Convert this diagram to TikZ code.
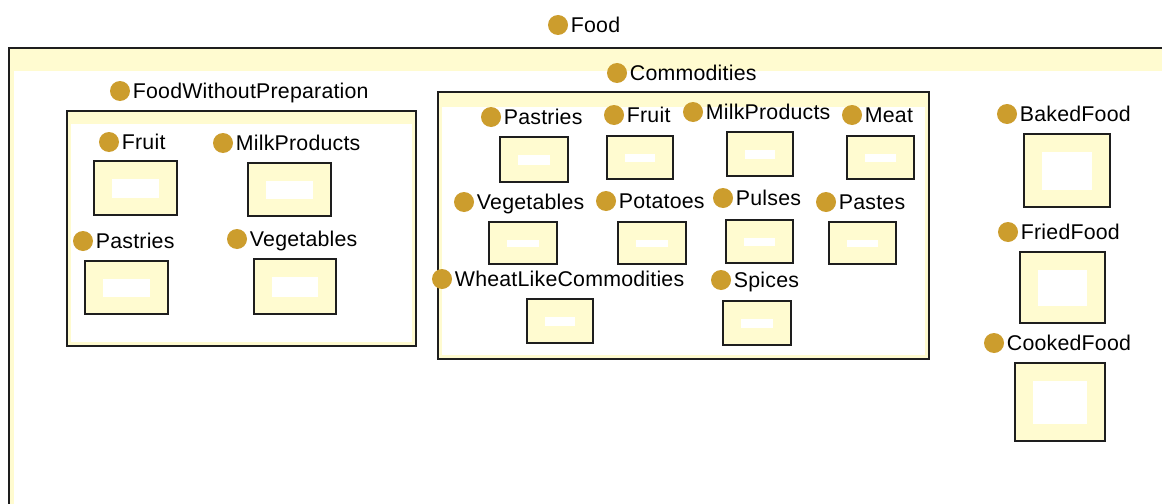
\documentclass[tikz,border=0pt]{standalone}
\usepackage{fontspec}
\setmainfont[LetterSpace=1]{Liberation Sans}
\usepackage{tikz}
\usetikzlibrary{positioning}
\definecolor{cream}{RGB}{255,251,208}
\definecolor{gold}{RGB}{204,157,45}
\definecolor{edge}{RGB}{30,30,30}
\tikzset{
 dot/.style={circle,fill=gold,inner sep=0pt,minimum size=20*0.75pt},
 lbl/.style={inner sep=0pt,text height=11.5pt,text depth=0pt,
   font=\fontsize{16}{19}\selectfont,label distance=1.8pt},
 classbox/.style={draw=edge,line width=1.4pt,fill=cream,
   path picture={\fill[white] ([shift={(18,17.5)}]path picture bounding box.north west)
     rectangle ([shift={(-18,-17.5)}]path picture bounding box.south east);}},
 groupbox/.style={draw=edge,line width=1.4pt,fill=cream,
   path picture={\fill[white] ([shift={(4,#1)}]path picture bounding box.north west)
     rectangle ([shift={(-4,-4)}]path picture bounding box.south east);}},
 groupbox/.default=13
}
\begin{document}
\begin{tikzpicture}[x=0.75pt,y=-0.75pt]
\useasboundingbox (0,0) rectangle (1162,503);
\clip (0,0) rectangle (1162,503);
\fill[white] (0,0) rectangle (1162,503);

% the top class and its frame
\path (558,25) node[dot,name=food,label={[lbl]right:Food}] {};
\path[groupbox=23] (9,48) rectangle (1185,530);
\fill[cream] (10,49) rectangle (14,530);

% FoodWithoutPreparation
\path (120,91) node[dot,name=fwp,label={[lbl]right:FoodWithoutPreparation}] {};
\path[groupbox] (67,111) rectangle (416,346);

\path (109,142) node[dot,name=fwpFruit,label={[lbl]right:Fruit}] {};
\path[classbox] (94,161) rectangle (177,215);
\path (223,143) node[dot,name=fwpMilk,label={[lbl]right:MilkProducts}] {};
\path[classbox] (248,163) rectangle (331,216);
\path (83,241) node[dot,name=fwpPastries,label={[lbl]right:Pastries}] {};
\path[classbox] (85,261) rectangle (168,314);
\path (237,239) node[dot,name=fwpVeg,label={[lbl]right:Vegetables}] {};
\path[classbox] (254,259) rectangle (336,314);

% Commodities
\path (617,73) node[dot,name=com,label={[lbl]right:Commodities}] {};
\path[groupbox=15] (438,92) rectangle (929,359);

\path (491,117) node[dot,name=comPastries,label={[lbl]right:Pastries}] {};
\path[classbox] (500,137) rectangle (568,182);
\path (614,115) node[dot,name=comFruit,label={[lbl]right:Fruit}] {};
\path[classbox] (607,136) rectangle (673,179);
\path (693,112) node[dot,name=comMilk,label={[lbl]right:MilkProducts}] {};
\path[classbox] (727,132) rectangle (793,176);
\path (852,115) node[dot,name=comMeat,label={[lbl]right:Meat}] {};
\path[classbox] (847,136) rectangle (914,179);

\path (464,202) node[dot,name=comVeg,label={[lbl]right:Vegetables}] {};
\path[classbox] (489,222) rectangle (557,264);
\path (606,201) node[dot,name=comPotatoes,label={[lbl]right:Potatoes}] {};
\path[classbox] (618,222) rectangle (686,264);
\path (723,198) node[dot,name=comPulses,label={[lbl]right:Pulses}] {};
\path[classbox] (726,220) rectangle (793,263);
\path (826,202) node[dot,name=comPastes,label={[lbl]right:Pastes}] {};
\path[classbox] (829,222) rectangle (896,264);

\path (442,279) node[dot,name=comWheat,label={[lbl]right:WheatLikeCommodities}] {};
\path[classbox] (527,299) rectangle (593,343);
\path (721,280) node[dot,name=comSpices,label={[lbl]right:Spices}] {};
\path[classbox] (723,301) rectangle (791,345);

% prepared food
\path (1007,114) node[dot,name=baked,label={[lbl]right:BakedFood}] {};
\path[classbox] (1024,134) rectangle (1110,207);
\path (1008,232) node[dot,name=fried,label={[lbl]right:FriedFood}] {};
\path[classbox] (1020,252) rectangle (1105,323);
\path (994,343) node[dot,name=cooked,label={[lbl]right:CookedFood}] {};
\path[classbox] (1015,363) rectangle (1105,441);

\end{tikzpicture}
\end{document}
